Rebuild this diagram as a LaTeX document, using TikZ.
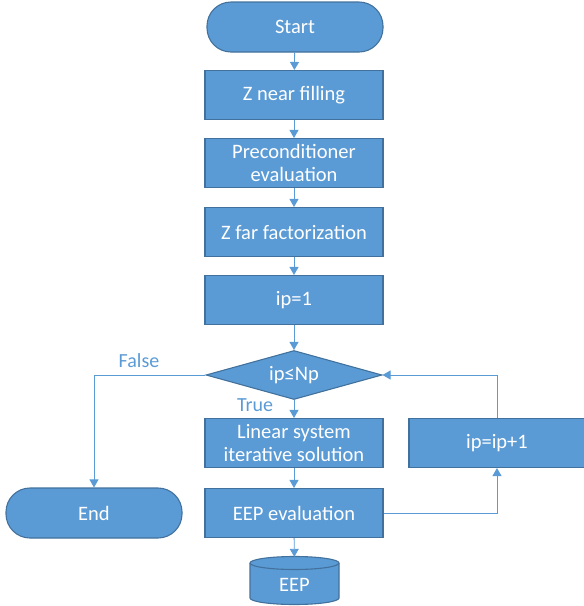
\documentclass[tikz,border=0pt]{standalone}
\usepackage{fontspec}
\setmainfont{Carlito}
\usetikzlibrary{shapes.geometric,arrows.meta}
\definecolor{boxfill}{HTML}{5B9BD5}
\definecolor{boxline}{HTML}{41719C}
\definecolor{conn}{HTML}{5B9BD5}
\begin{document}
\begin{tikzpicture}[x=1pt,y=-1pt,
  every node/.style={font=\fontsize{20.5}{23}\selectfont},
  procbox/.style={draw=boxline, line width=1.1pt, fill=boxfill, text=white, minimum width=178pt, minimum height=49pt, align=center, inner sep=2pt},
  termbox/.style={procbox, rounded corners=24pt, minimum width=176pt, minimum height=50pt},
  decbox/.style={draw=boxline, line width=1.1pt, fill=boxfill, text=white, diamond, aspect=3.6, minimum width=176pt, minimum height=49pt, inner sep=0pt},
  storeline/.style={draw=boxline, line width=1.1pt, fill=boxfill},
  flow/.style={draw=conn, line width=0.9pt, -{Triangle[width=9pt,length=8pt]}},
  lbl/.style={text=conn, font=\fontsize{20}{23}\selectfont}
]
\useasboundingbox (0,0) rectangle (584,606);
\node[termbox] (start) at (295,27) {Start};
\node[procbox] (znear) at (294,95) {Z near filling};
\node[procbox] (prec) at (294,163) {Preconditioner\\evaluation};
\node[procbox] (zfar) at (294,232) {Z far factorization};
\node[procbox] (ip1) at (294,300) {ip=1};
\node[decbox] (dec) at (294,375) {ip\symbol{"2264}Np};
\node[procbox] (lin) at (294,443) {Linear system\\iterative solution};
\node[procbox] (eval) at (294,513) {EEP evaluation};
% EEP data store (cylinder)
\node[inner sep=0pt, minimum width=89pt, minimum height=48pt] (eep) at (294.5,581) {};
\draw[storeline] (250,563) -- (250,598) arc (180:0:44.5 and 6.5) -- (339,563) arc (0:-180:44.5 and 6.5) -- cycle;
\draw[draw=boxline, line width=1.1pt] (250,563) arc (180:0:44.5 and 6.5);
\node[text=white] (eeptext) at (294.5,585) {EEP};
\node[procbox, minimum width=176pt] (inc) at (497,443) {ip=ip+1};
\node[termbox] (end) at (94,513) {End};
\draw[flow] (start) -- (znear);
\draw[flow] (znear) -- (prec);
\draw[flow] (prec) -- (zfar);
\draw[flow] (zfar) -- (ip1);
\draw[flow] (ip1) -- (dec);
\draw[flow] (dec) -- (lin);
\draw[flow] (lin) -- (eval);
\draw[flow] (eval) -- (eep);
\draw[flow] (eval.east) -| (inc.south);
\draw[flow] (inc.north) |- (dec.east);
\draw[flow] (dec.west) -| (end.north);
\node[lbl] (lfalse) at (139,361) {False};
\node[lbl] (ltrue) at (255,405) {True};
\end{tikzpicture}
\end{document}
